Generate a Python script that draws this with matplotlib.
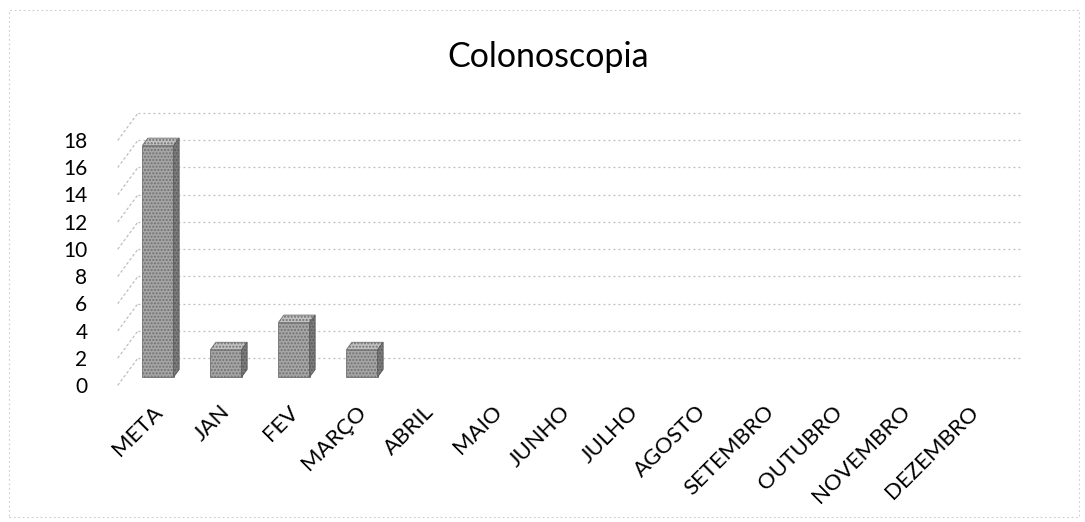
#!/usr/bin/env python3
"""
Colonoscopia - monthly counts vs. target (pseudo 3D column chart)
"""

import matplotlib
matplotlib.use("Agg")
import matplotlib.pyplot as plt
import matplotlib.transforms as mtransforms
from matplotlib.patches import Polygon, Rectangle

# data
categories = ['META', 'JAN', 'FEV', 'MARÇO', 'ABRIL', 'MAIO', 'JUNHO', 'JULHO',
              'AGOSTO', 'SETEMBRO', 'OUTUBRO', 'NOVEMBRO', 'DEZEMBRO']
values = [17, 2, 4, 2, 0, 0, 0, 0, 0, 0, 0, 0, 0]
y_ticks = [0, 2, 4, 6, 8, 10, 12, 14, 16, 18]

plt.rcParams['font.family'] = ['Lato', 'DejaVu Sans']

W, H, DPI = 1085, 522, 100
fig = plt.figure(figsize=(W / DPI, H / DPI), dpi=DPI)
ax = fig.add_axes([118 / W, (H - 385) / H, 884 / W, 245 / H])

n = len(categories)
ax.set_xlim(-0.5, n - 0.5)
ax.set_ylim(0, 18)
for s in ax.spines.values():
    s.set_visible(False)

# 3D look: back wall offset (pixels)
wall_dx, wall_dy = 20, 27
back = ax.transData + mtransforms.ScaledTranslation(wall_dx / DPI, wall_dy / DPI, fig.dpi_scale_trans)
grid_col = '#bdbdbd'
grid_ls = (0, (1.5, 2.5))
for t in y_ticks:
    ax.plot([-0.5, n - 0.5], [t, t], transform=back, clip_on=False,
            color=grid_col, lw=0.9, linestyle=grid_ls)
    # side wall diagonals
    ax.annotate('', xy=(-0.5, t), xytext=(-0.5, t), xycoords=back, textcoords='data',
                arrowprops=dict(arrowstyle='-', color=grid_col, lw=0.9,
                                linestyle=grid_ls, shrinkA=0, shrinkB=0))

# bars: front face sits part way into the floor depth
px_x = 884 / n           # pixels per category
px_y = 245 / 18          # pixels per value unit
front = ax.transData + mtransforms.ScaledTranslation(6 / DPI, 8 / DPI, fig.dpi_scale_trans)
depth_x = 5.5 / px_x
depth_y = 7.5 / px_y
bar_w = 0.46

bars = ax.bar(range(n), values, width=bar_w, transform=front,
              color='#a6a6a6', edgecolor='#707070', hatch='.....', lw=0.6, zorder=3)
for b, v in zip(bars, values):
    if v <= 0:
        b.set_visible(False)
        continue
    x0 = b.get_x()
    x1 = x0 + b.get_width()
    top = Polygon([(x0, v), (x1, v), (x1 + depth_x, v + depth_y), (x0 + depth_x, v + depth_y)],
                  closed=True, transform=front, facecolor='#c2c2c2', edgecolor='#707070',
                  hatch='.....', lw=0.6, zorder=3, clip_on=False)
    side = Polygon([(x1, 0), (x1 + depth_x, depth_y), (x1 + depth_x, v + depth_y), (x1, v)],
                   closed=True, transform=front, facecolor='#7d7d7d', edgecolor='#5a5a5a',
                   hatch='.....', lw=0.6, zorder=3, clip_on=False)
    ax.add_patch(top)
    ax.add_patch(side)

ax.set_yticks(y_ticks)
ax.set_yticklabels([str(t) for t in y_ticks], fontsize=15)
ax.tick_params(axis='y', length=0, pad=22)

ax.set_xticks(range(n))
ax.set_xticklabels(categories, fontsize=16, rotation=45, ha='right', va='top',
                   rotation_mode='anchor')
ax.tick_params(axis='x', length=0, pad=12)

fig.text(548 / W, 1 - 57 / H, 'Colonoscopia', ha='center', va='center', fontsize=24.5)

# chart border
fig.patches.append(Rectangle((9 / W, 5 / H), 1070 / W, 507 / H, transform=fig.transFigure,
                             fill=False, edgecolor='#cccccc', lw=0.8,
                             linestyle=(0, (1.5, 2.5))))

fig.savefig('out.png', dpi=DPI)
